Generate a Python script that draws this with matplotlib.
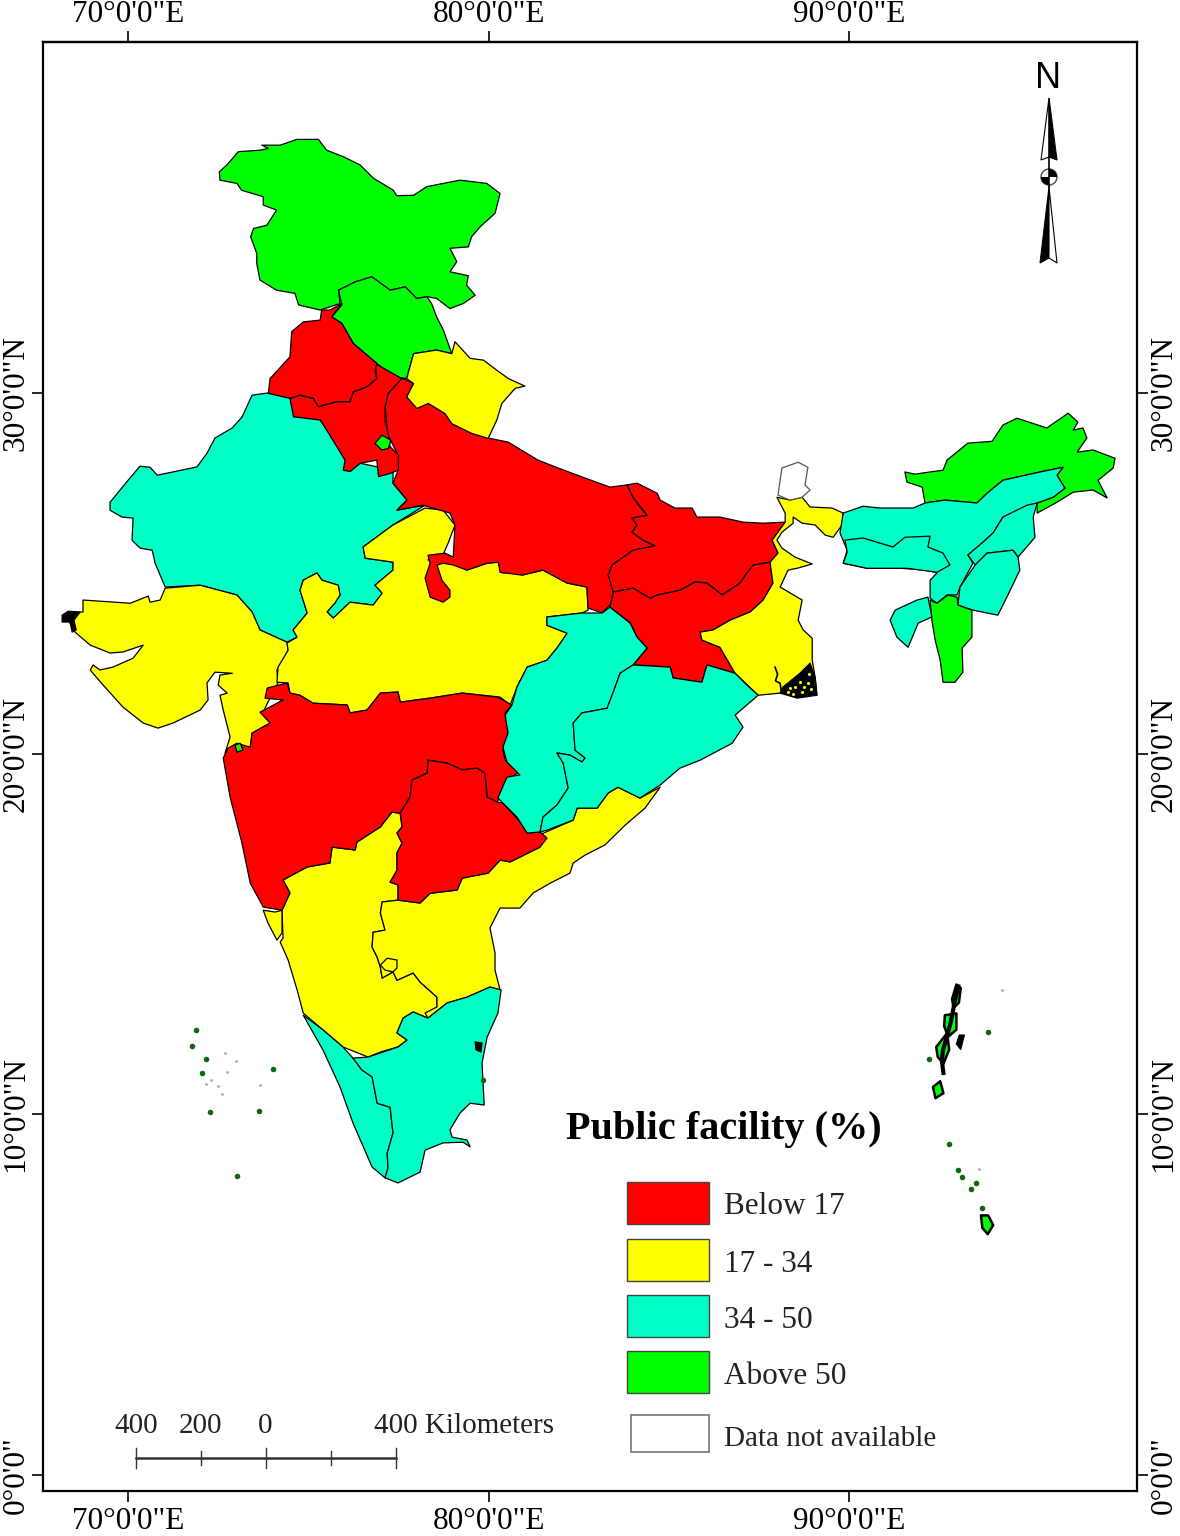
import matplotlib
matplotlib.use("Agg")
import matplotlib.pyplot as plt
from matplotlib.patches import Rectangle, Circle, Wedge
from matplotlib.transforms import Affine2D

plt.rcParams["font.family"] = ["Liberation Serif", "DejaVu Serif"]
plt.rcParams["ytick.alignment"] = "center"

RED = "#ff0000"
YELLOW = "#ffff00"
AQUA = "#00ffc5"
GREEN = "#00ff00"

LON_TICKS = [70, 80, 90]
LON_LABELS = ['70°0\'0"E', '80°0\'0"E', '90°0\'0"E']
LAT_TICKS = [0, 10, 20, 30]
LAT_LABELS = ['0°0\'0"', '10°0\'0"N', '20°0\'0"N', '30°0\'0"N']

LEGEND_LABELS = ["Below 17", "17 - 34", "34 - 50", "Above 50"]
LEGEND_COLORS = [RED, YELLOW, AQUA, GREEN]

# state outlines, (lon, lat)
JAMMU_KASHMIR = [(72.53,36.13),(72.74,36.32),(73.06,36.69),(73.66,36.73),(73.89,36.78),(73.71,36.87),(74.22,36.87),(74.68,37.03),(75.28,37.03),(75.51,36.73),(75.97,36.55),(76.44,36.32),(76.81,35.95),(77.36,35.62),(77.45,35.47),(77.92,35.48),(78.29,35.72),(79.21,35.90),(79.95,35.81),(80.32,35.53),(80.18,34.98),(79.77,34.61),(79.53,34.33),(79.44,34.05),(78.93,34.01),(79.12,33.64),(78.93,33.36),(79.44,33.25),(79.39,32.99),(79.63,32.71),(79.30,32.48),(78.93,32.34),(78.56,32.62),(78.29,32.67),(78.01,32.62),(77.69,32.94),(77.27,32.85),(76.76,33.22),(76.30,33.08),(75.84,32.85),(75.88,32.48),(75.33,32.30),(74.73,32.44),(74.63,32.76),(74.12,32.85),(73.66,33.13),(73.57,33.59),(73.57,33.87),(73.40,34.33),(73.48,34.56),(73.85,34.65),(74.12,35.07),(73.75,35.21),(73.75,35.44),(73.15,35.62),(73.02,35.81),(72.55,35.90)]
HIMACHAL = [(75.84,32.85),(76.30,33.08),(76.76,33.22),(77.27,32.85),(77.69,32.94),(78.01,32.62),(78.29,32.67),(78.42,32.48),(78.56,32.11),(78.75,31.74),(78.98,31.09),(78.56,31.19),(77.92,31.09),(77.73,30.40),(77.36,30.45),(76.90,30.82),(76.25,31.37),(75.93,31.93),(75.65,32.11),(75.93,32.44)]
PUNJAB = [(75.93,32.48),(75.65,32.11),(75.93,31.93),(76.25,31.37),(76.90,30.82),(76.85,30.63),(76.90,30.40),(76.62,30.17),(76.25,30.03),(76.16,29.76),(75.79,29.76),(75.28,29.62),(75.14,29.85),(74.77,29.94),(74.49,29.85),(73.89,29.99),(73.94,30.40),(74.49,31.00),(74.54,31.70),(74.86,31.97),(75.33,32.02),(75.37,32.30),(75.60,32.30)]
HARYANA = [(74.49,29.85),(74.77,29.94),(75.14,29.85),(75.28,29.62),(75.79,29.76),(76.16,29.76),(76.25,30.03),(76.62,30.17),(76.90,30.40),(76.85,30.82),(77.59,30.40),(77.22,29.99),(77.13,29.62),(77.13,29.25),(77.22,28.83),(77.27,28.51),(77.50,28.28),(77.50,27.86),(77.27,27.77),(76.95,27.68),(76.90,28.14),(76.44,28.05),(76.16,27.82),(75.97,27.86),(76.02,28.14),(75.51,28.97),(75.33,29.25),(74.59,29.34)]
DELHI = [(76.85,28.60),(77.04,28.83),(77.29,28.69),(77.22,28.46),(77.04,28.42)]
UTTARAKHAND = [(77.73,30.40),(77.92,31.09),(78.56,31.19),(78.98,31.09),(79.07,31.42),(79.49,30.96),(79.86,30.91),(80.23,30.63),(80.55,30.40),(81.01,30.19),(80.74,30.13),(80.37,29.71),(80.23,29.25),(79.99,28.74),(79.53,28.88),(78.98,29.15),(78.79,29.43),(78.33,29.71),(78.01,29.57),(77.73,29.89),(77.92,30.26)]
RAJASTHAN = [(73.88,30.00),(73.44,29.94),(73.16,29.33),(72.89,29.03),(72.41,28.75),(72.19,28.33),(71.91,27.95),(70.81,27.72),(70.61,27.94),(70.33,27.97),(70.00,27.58),(69.50,26.97),(69.50,26.75),(69.83,26.56),(70.14,26.53),(70.11,25.92),(70.33,25.70),(70.67,25.64),(70.75,25.28),(71.03,24.62),(72.00,24.67),(73.02,24.40),(73.44,23.92),(73.66,23.43),(74.41,23.09),(74.69,23.23),(74.58,23.43),(74.97,23.90),(74.77,24.53),(74.86,24.81),(75.24,25.01),(75.38,24.81),(75.83,24.67),(75.88,24.40),(75.74,24.18),(75.52,23.93),(75.69,23.76),(76.16,24.20),(76.80,24.12),(77.05,24.45),(76.85,24.67),(77.35,25.09),(77.35,25.31),(76.58,25.42),(76.52,25.73),(77.35,26.34),(78.24,26.89),(77.46,26.75),(77.74,27.03),(77.35,27.50),(77.35,27.86),(76.02,28.14),(75.47,29.11),(74.63,29.94)]
GUJARAT = [(68.75,24.26),(69.64,24.20),(70.06,24.17),(70.56,24.37),(70.61,24.20),(70.89,24.26),(71.03,24.59),(72.00,24.67),(73.02,24.40),(73.44,23.93),(73.66,23.43),(74.41,23.09),(74.44,22.87),(74.27,22.51),(74.13,22.32),(74.16,21.96),(73.88,21.43),(73.75,21.15),(73.94,20.85),(73.44,20.57),(73.39,20.18),(72.91,20.15),(72.69,20.02),(72.83,20.46),(72.64,21.21),(72.55,21.62),(72.75,21.68),(72.50,21.90),(72.55,22.18),(72.89,22.23),(72.41,22.26),(72.19,21.96),(72.22,21.49),(72.00,21.21),(71.25,20.85),(70.83,20.71),(70.42,20.85),(69.86,21.29),(69.31,21.90),(68.95,22.32),(69.03,22.46),(69.22,22.32),(69.58,22.40),(70.14,22.65),(70.42,23.01),(69.86,22.82),(69.50,22.79),(68.95,23.01),(68.53,23.37),(68.39,23.62),(68.47,23.90),(68.75,23.93)]
KUTCH_CREEK = [(68.17,23.84),(68.34,23.95),(68.67,23.93),(68.50,23.70),(68.56,23.43),(68.45,23.37),(68.39,23.65),(68.17,23.65)]
MADHYA_PRADESH = [(78.24,26.81),(78.74,26.75),(79.07,26.34),(78.88,25.84),(78.71,25.45),(78.38,25.45),(78.32,25.37),(78.74,25.37),(79.02,25.28),(79.40,25.09),(79.96,25.28),(80.27,25.31),(80.38,25.01),(80.82,25.03),(80.93,24.95),(81.51,25.09),(82.18,24.73),(82.73,24.62),(82.76,23.98),(82.59,23.90),(81.62,23.79),(81.62,23.56),(82.18,23.34),(81.90,22.93),(81.62,22.59),(81.07,22.40),(80.79,21.85),(80.60,21.35),(80.32,21.57),(79.27,21.68),(78.38,21.54),(77.55,21.43),(77.49,21.71),(77.00,21.68),(76.63,21.21),(76.16,21.13),(76.08,21.35),(75.13,21.40),(74.77,21.62),(74.49,21.68),(74.44,21.96),(74.13,21.98),(74.16,22.40),(74.44,22.87),(74.41,23.07),(74.69,23.23),(74.58,23.43),(74.97,23.90),(74.77,24.53),(74.86,24.81),(75.24,25.01),(75.38,24.81),(75.83,24.67),(75.88,24.40),(75.74,24.18),(75.52,23.93),(75.69,23.76),(76.16,24.20),(76.80,24.12),(77.05,24.45),(76.85,24.67),(77.35,25.09),(77.35,25.31),(76.58,25.42),(76.52,25.73),(77.35,26.34)]
UTTAR_PRADESH = [(77.60,30.41),(77.91,30.27),(77.74,29.88),(78.02,29.58),(78.32,29.72),(78.79,29.44),(78.99,29.16),(79.54,28.89),(79.99,28.75),(80.54,28.64),(81.37,28.14),(81.93,27.92),(82.68,27.64),(83.37,27.39),(83.84,27.45),(84.01,27.11),(84.20,26.84),(84.40,26.61),(83.98,26.53),(84.12,26.34),(83.98,26.14),(84.29,25.92),(84.62,25.76),(84.01,25.64),(83.43,25.23),(83.32,24.95),(83.51,24.53),(83.37,24.12),(83.15,23.90),(82.76,24.04),(82.73,24.62),(82.18,24.73),(81.51,25.09),(80.93,24.95),(80.32,25.03),(80.27,25.31),(79.96,25.28),(79.40,25.09),(79.02,25.23),(78.74,25.28),(78.57,25.23),(78.71,24.81),(78.93,24.53),(78.93,24.34),(78.74,24.20),(78.38,24.34),(78.24,24.87),(78.38,25.28),(78.32,25.50),(78.79,25.56),(79.02,25.45),(79.07,26.34),(78.93,26.67),(78.66,26.75),(78.18,26.89),(77.46,26.75),(77.74,27.03),(77.35,27.50),(77.49,27.86),(77.49,28.28),(77.21,28.83),(77.13,29.61),(77.21,30.00)]
BIHAR = [(83.84,27.45),(84.12,27.50),(84.68,27.22),(84.76,27.03),(85.17,26.81),(85.65,26.81),(85.78,26.56),(86.42,26.56),(87.06,26.42),(87.62,26.39),(88.23,26.42),(87.87,25.92),(88.03,25.56),(87.81,25.28),(87.53,25.28),(87.17,25.01),(86.98,24.73),(86.48,24.40),(86.06,24.73),(85.73,24.76),(85.31,24.53),(84.68,24.40),(84.48,24.31),(84.01,24.59),(83.46,24.48),(83.32,24.95),(83.43,25.23),(84.01,25.64),(84.62,25.76),(84.29,25.92),(83.98,26.14),(84.12,26.34),(83.98,26.53),(84.40,26.61),(84.01,27.11)]
JHARKHAND = [(83.46,24.48),(84.01,24.59),(84.48,24.31),(84.68,24.40),(85.31,24.53),(85.73,24.76),(86.06,24.73),(86.48,24.40),(86.98,24.73),(87.17,25.01),(87.34,25.23),(87.81,25.31),(87.89,24.73),(87.62,24.26),(87.26,23.93),(86.70,23.70),(86.23,23.43),(85.87,23.37),(85.92,23.15),(86.42,22.95),(86.84,22.23),(86.06,22.46),(85.92,21.98),(85.12,22.10),(85.04,22.40),(84.01,22.46),(84.40,22.93),(84.12,23.23),(83.93,23.62),(83.37,24.06)]
WEST_BENGAL = [(88.00,27.11),(88.36,27.03),(88.70,27.11),(88.92,26.84),(89.53,26.81),(89.84,26.67),(89.81,26.34),(89.56,26.00),(89.34,26.06),(89.06,26.34),(88.70,26.39),(88.45,26.56),(88.45,26.39),(88.14,26.14),(88.00,25.92),(88.14,25.70),(88.50,25.45),(88.98,25.26),(88.56,25.14),(88.31,25.09),(88.09,24.62),(88.70,24.26),(88.59,23.70),(88.73,23.43),(88.98,23.20),(88.98,22.59),(89.06,22.12),(89.11,21.62),(88.09,21.68),(87.48,21.62),(86.84,22.23),(86.42,22.95),(85.92,23.15),(85.87,23.37),(86.23,23.43),(86.70,23.70),(87.26,23.93),(87.62,24.26),(87.89,24.73),(87.81,25.31),(88.03,25.56),(87.87,25.92),(88.23,26.42),(88.23,26.67)]
SUNDARBANS = [(88.09,21.68),(88.17,21.85),(88.64,22.23),(88.92,22.51),(89.06,22.12),(89.11,21.62),(88.56,21.54)]
SUNDARBANS_SPECK_LON = [88.30,88.50,88.70,88.85,88.45,88.65,88.90,88.75,88.95,88.35]
SUNDARBANS_SPECK_LAT = [21.72,21.85,21.70,21.95,21.65,22.00,22.20,21.85,21.78,21.82]
HOOGHLY_INLET_LON = [87.95,88.02,87.96,88.09,88.12]
HOOGHLY_INLET_LAT = [22.40,22.20,22.02,21.95,21.72]
SIKKIM = [(88.03,27.17),(88.14,27.92),(88.59,28.08),(88.86,27.94),(88.78,27.45),(88.92,27.31),(88.70,27.11),(88.36,27.03)]
ARUNACHAL = [(91.55,27.81),(91.83,27.75),(92.25,27.81),(92.61,27.86),(92.72,28.14),(93.30,28.61),(93.97,28.66),(94.27,29.11),(94.66,29.30),(95.49,29.03),(96.08,29.44),(96.35,29.19),(96.22,28.97),(96.49,29.03),(96.60,28.75),(96.33,28.36),(96.77,28.42),(97.38,28.19),(97.33,27.92),(96.91,27.58),(97.16,27.09),(96.77,27.31),(96.22,27.25),(95.77,26.97),(95.22,26.67),(95.22,26.95),(95.66,27.11),(95.99,27.36),(95.77,27.72),(95.94,27.94),(95.30,27.81),(94.27,27.58),(93.83,27.22),(93.55,26.95),(92.66,27.03),(92.11,26.95),(92.03,27.39),(91.61,27.53)]
ASSAM = [(89.84,26.67),(90.39,26.86),(90.86,26.81),(91.78,26.81),(92.11,26.95),(92.66,27.03),(93.55,26.95),(93.83,27.22),(94.27,27.58),(95.30,27.81),(95.94,27.94),(95.77,27.72),(95.99,27.36),(95.66,27.11),(95.22,26.95),(94.27,26.56),(94.00,26.12),(93.69,25.84),(93.30,25.51),(93.44,25.28),(93.08,24.62),(93.00,24.40),(92.72,24.40),(92.44,24.17),(92.25,24.31),(92.25,24.81),(92.44,25.01),(92.16,25.09),(91.42,25.14),(90.50,25.14),(89.84,25.28),(89.95,25.64),(89.75,26.12)]
MEGHALAYA = [(89.89,25.92),(90.39,25.98),(91.22,25.73),(91.55,26.00),(92.25,26.03),(92.19,25.73),(92.61,25.56),(92.80,25.23),(92.44,25.03),(91.61,25.14),(90.50,25.14),(89.84,25.28),(89.95,25.59)]
NAGALAND = [(93.30,25.51),(93.69,25.84),(94.00,26.12),(94.27,26.56),(94.94,26.89),(95.22,26.95),(95.11,26.56),(95.16,26.00),(94.69,25.45),(94.55,25.64),(93.83,25.56),(93.50,25.23)]
MANIPUR = [(93.50,25.23),(93.83,25.56),(94.55,25.64),(94.69,25.45),(94.74,25.09),(94.38,24.34),(94.13,23.84),(93.44,23.98),(93.02,24.12),(93.08,24.62)]
MIZORAM = [(92.25,24.26),(92.44,24.17),(92.75,24.40),(93.00,24.34),(93.02,24.12),(93.41,23.98),(93.41,23.23),(93.14,22.93),(93.16,22.26),(92.94,21.98),(92.61,21.98),(92.53,22.59),(92.39,23.15),(92.30,23.70)]
TRIPURA = [(91.14,23.70),(91.28,23.98),(91.89,24.26),(92.19,24.34),(92.30,23.79),(91.92,23.62),(91.64,22.95),(91.33,23.23)]
MAHARASHTRA = [(73.86,21.82),(74.41,21.96),(74.49,21.68),(74.77,21.62),(75.13,21.40),(76.08,21.35),(76.16,21.13),(76.63,21.21),(77.00,21.68),(77.49,21.71),(77.55,21.43),(78.38,21.54),(79.27,21.68),(80.24,21.57),(80.65,21.35),(80.46,21.13),(80.60,20.65),(80.40,20.10),(80.46,19.82),(80.87,19.49),(80.54,19.32),(80.32,18.80),(80.24,18.66),(79.96,18.80),(79.90,19.46),(79.68,19.60),(79.27,19.55),(78.85,19.74),(78.32,19.82),(78.30,19.46),(77.88,19.27),(77.82,18.80),(77.55,18.35),(77.32,18.38),(77.00,17.97),(76.35,17.55),(76.30,17.33),(75.66,17.41),(75.60,16.97),(74.97,16.86),(74.30,16.50),(74.49,16.14),(74.27,15.66),(73.75,15.75),(73.39,16.41),(73.16,17.52),(72.83,18.80),(72.64,19.88),(72.77,20.15),(73.02,20.29),(73.39,20.18),(73.44,20.57),(73.94,20.85),(73.66,21.15),(74.30,21.49),(73.80,21.54)]
DADRA = [(72.97,20.24),(73.11,20.29),(73.19,20.10),(73.02,20.04)]
TELANGANA = [(78.32,19.82),(78.85,19.74),(79.27,19.55),(79.68,19.60),(79.90,19.46),(79.96,18.80),(80.24,18.66),(80.40,18.63),(81.01,17.97),(81.07,17.80),(81.43,17.83),(81.62,17.66),(81.43,17.41),(80.60,17.00),(80.32,17.05),(79.99,16.69),(79.27,16.55),(79.13,16.22),(78.38,16.13),(78.10,15.86),(77.49,15.94),(77.49,16.36),(77.27,16.44),(77.46,16.77),(77.46,17.25),(77.60,17.52),(77.46,17.80),(77.60,17.97),(77.55,18.35),(77.82,18.80),(77.88,19.27),(78.30,19.46)]
CHHATTISGARH = [(81.62,23.79),(82.59,23.90),(83.15,23.90),(83.37,24.06),(83.93,23.62),(84.12,23.23),(84.40,22.93),(84.01,22.46),(83.65,22.23),(83.45,21.68),(83.29,21.26),(82.59,21.13),(82.35,20.85),(82.40,20.10),(82.68,19.88),(82.59,19.77),(82.26,19.96),(81.90,20.02),(82.07,19.74),(82.21,19.05),(81.90,18.58),(81.51,18.24),(81.43,17.83),(81.07,17.80),(80.79,18.24),(80.26,18.77),(80.51,19.35),(80.87,19.41),(80.51,19.77),(80.40,20.18),(80.54,20.57),(80.46,21.07),(80.65,21.35),(80.79,21.85),(81.07,22.40),(81.62,22.59),(81.90,22.93),(82.18,23.34),(81.62,23.56)]
ODISHA = [(84.01,22.46),(85.04,22.40),(85.12,22.10),(85.92,21.98),(86.06,22.46),(86.84,22.23),(87.17,21.90),(87.48,21.62),(86.84,21.07),(87.06,20.74),(86.76,20.29),(85.87,19.82),(85.31,19.60),(84.76,19.13),(84.20,18.77),(83.59,19.07),(83.32,18.91),(83.01,18.49),(82.46,18.49),(82.35,18.16),(81.62,17.88),(81.43,17.83),(81.51,18.24),(81.90,18.58),(82.21,19.05),(82.07,19.74),(81.90,20.02),(82.26,19.96),(82.59,19.77),(82.68,19.88),(82.40,20.10),(82.35,20.85),(82.59,21.13),(83.29,21.26),(83.45,21.68),(83.65,22.23)]
ANDHRA = [(81.46,17.77),(82.35,18.16),(82.46,18.49),(83.01,18.49),(83.32,18.91),(83.59,19.07),(84.20,18.77),(84.76,19.07),(84.34,18.49),(83.79,18.02),(83.23,17.47),(82.68,17.19),(82.35,16.97),(82.26,16.69),(81.71,16.41),(81.24,16.14),(80.87,15.72),(80.32,15.72),(80.04,15.17),(80.18,14.47),(80.18,14.00),(80.32,13.45),(80.04,13.53),(79.40,13.25),(78.85,13.09),(78.32,12.67),(78.24,12.81),(78.57,12.98),(78.57,13.25),(78.10,13.67),(77.91,13.92),(77.46,13.72),(77.35,13.95),(77.05,13.78),(77.00,14.08),(76.91,14.36),(76.77,14.64),(76.80,15.05),(77.13,15.11),(77.00,15.58),(77.05,15.89),(77.49,15.94),(78.10,15.86),(78.38,16.13),(79.13,16.22),(79.27,16.55),(79.99,16.69),(80.32,17.05),(80.60,17.00),(81.43,17.41)]
HINDUPUR_LOOP = [(77.00,14.14),(77.19,14.33),(77.46,14.28),(77.46,14.06),(77.35,13.95),(77.13,14.00)]
KARNATAKA = [(74.27,15.66),(74.30,14.89),(74.22,14.78),(74.44,14.28),(74.69,13.45),(74.86,12.81),(75.41,12.34),(75.96,11.87),(76.66,11.59),(77.00,11.73),(77.49,11.87),(77.74,12.06),(77.46,12.26),(77.63,12.67),(77.91,12.84),(78.30,12.67),(78.57,12.98),(78.57,13.25),(78.10,13.67),(77.91,13.92),(77.46,13.72),(77.35,13.95),(77.05,13.78),(77.00,14.08),(76.91,14.36),(76.77,14.64),(76.80,15.05),(77.13,15.11),(77.00,15.58),(77.05,15.89),(77.49,15.94),(77.49,16.36),(77.27,16.44),(77.46,16.77),(77.46,17.25),(77.60,17.52),(77.46,17.80),(77.60,17.97),(77.55,18.35),(77.32,18.38),(77.00,17.97),(76.35,17.55),(76.30,17.33),(75.66,17.41),(75.60,16.97),(74.97,16.86),(74.30,16.50),(74.49,16.14)]
GOA = [(73.75,15.66),(74.08,15.61),(74.27,15.66),(74.27,15.03),(74.13,14.83),(73.88,15.31)]
KERALA = [(74.86,12.75),(75.41,12.34),(75.96,11.87),(76.24,11.56),(76.49,11.23),(76.77,11.04),(76.91,10.31),(77.27,10.20),(77.35,9.48),(77.19,8.93),(77.21,8.51),(77.13,8.24),(76.77,8.54),(76.24,9.76),(75.88,10.76),(75.41,11.78)]
TAMIL_NADU = [(76.24,11.56),(76.66,11.59),(77.49,11.87),(77.74,12.06),(77.46,12.26),(77.63,12.67),(77.91,12.84),(78.32,12.67),(78.85,13.09),(79.40,13.25),(80.04,13.53),(80.35,13.45),(80.26,12.81),(79.96,12.14),(79.82,11.42),(79.88,10.26),(79.49,10.31),(79.21,10.04),(78.93,9.57),(78.99,9.37),(79.40,9.29),(79.49,9.10),(79.29,9.23),(78.74,9.21),(78.24,9.01),(78.10,8.40),(77.49,8.10),(77.13,8.24),(77.21,8.51),(77.19,8.93),(77.35,9.48),(77.27,10.20),(76.91,10.31),(76.77,11.04),(76.49,11.23)]
PUDUCHERRY = [(79.63,12.01),(79.82,11.98),(79.79,11.73),(79.65,11.79)]

# Andaman and Nicobar
ANDAMAN_CHAIN_LON = [93.03,92.95,92.82,92.70,92.60,92.58,92.62]
ANDAMAN_CHAIN_LAT = [13.55,13.20,12.55,12.10,11.75,11.45,11.15]
NORTH_ANDAMAN = [(92.86,13.20),(92.98,13.60),(93.10,13.50),(93.05,13.10),(92.90,12.95)]
MIDDLE_ANDAMAN = [(92.66,12.75),(92.98,12.80),(92.98,12.35),(92.75,12.15),(92.64,12.45)]
SOUTH_ANDAMAN = [(92.42,11.87),(92.72,12.25),(92.78,11.80),(92.62,11.40),(92.46,11.60)]
LITTLE_ANDAMAN = [(92.33,10.76),(92.53,10.92),(92.62,10.59),(92.40,10.45)]
RITCHIE = [(93.06,12.20),(93.20,12.20),(93.10,11.80),(92.98,11.95)]
GREAT_NICOBAR = [(93.66,7.20),(93.86,7.20),(94.00,6.93),(93.85,6.68),(93.70,6.85)]

ISLAND_DOT_LON = [71.89,71.78,72.16,72.05,74.02,72.28,73.63,73.02,92.77,93.13,93.39,93.53,93.69,93.03,92.22,93.86,79.85]
ISLAND_DOT_LAT = [12.34,11.89,11.53,11.15,11.26,10.06,10.09,8.29,9.18,8.26,7.93,8.10,7.40,8.46,11.53,12.28,10.95]
ISLET_LON = [72.69,73.00,72.75,72.30,72.16,72.50,72.61,73.66,93.61,94.25]
ISLET_LAT = [11.70,11.48,11.17,10.95,10.84,10.79,10.56,10.81,8.48,13.45]

STATES = [
    (RAJASTHAN, AQUA), (GUJARAT, YELLOW), (MADHYA_PRADESH, YELLOW), (UTTAR_PRADESH, RED),
    (JAMMU_KASHMIR, GREEN), (HIMACHAL, GREEN), (HARYANA, RED), (PUNJAB, RED), (DELHI, GREEN),
    (UTTARAKHAND, YELLOW), (BIHAR, RED), (JHARKHAND, RED), (WEST_BENGAL, YELLOW), (SIKKIM, "white"),
    (ARUNACHAL, GREEN), (ASSAM, AQUA), (MEGHALAYA, AQUA), (NAGALAND, AQUA), (MANIPUR, AQUA),
    (MIZORAM, GREEN), (TRIPURA, AQUA), (KARNATAKA, YELLOW), (ANDHRA, YELLOW), (HINDUPUR_LOOP, YELLOW),
    (GOA, YELLOW), (MAHARASHTRA, RED), (DADRA, GREEN), (TELANGANA, RED), (CHHATTISGARH, AQUA),
    (ODISHA, AQUA), (KERALA, AQUA), (TAMIL_NADU, AQUA),
]
ISLANDS = [NORTH_ANDAMAN, MIDDLE_ANDAMAN, SOUTH_ANDAMAN, LITTLE_ANDAMAN, GREAT_NICOBAR]
BLACK_PATCHES = [KUTCH_CREEK, SUNDARBANS, PUDUCHERRY, RITCHIE]


def draw_poly(ax, pts, color, edge="black", lw=0.9):
    lons, lats = zip(*pts)
    ax.fill(lons, lats, facecolor=color, edgecolor=edge, linewidth=lw, joinstyle="round")


fig = plt.figure(figsize=(11.8, 15.36), dpi=100)
ax = fig.add_axes([43 / 1180, 1 - 1491 / 1536, 1094 / 1180, 1449 / 1536])

for pts, color in STATES:
    draw_poly(ax, pts, color, edge="#555555" if color == "white" else "black")
for pts in BLACK_PATCHES:
    draw_poly(ax, pts, "black")
ax.plot(HOOGHLY_INLET_LON, HOOGHLY_INLET_LAT, color="black", linewidth=1.2)
ax.scatter(SUNDARBANS_SPECK_LON, SUNDARBANS_SPECK_LAT, s=5, color=YELLOW, linewidths=0, zorder=3)
ax.plot(ANDAMAN_CHAIN_LON, ANDAMAN_CHAIN_LAT, color="black", linewidth=3.0, zorder=2)
for pts in ISLANDS:
    draw_poly(ax, pts, GREEN, lw=1.8)
ax.scatter(ISLAND_DOT_LON, ISLAND_DOT_LAT, s=16, color="#0a6a0a", linewidths=0, zorder=3)
ax.scatter(ISLET_LON, ISLET_LAT, s=4, color="#aaaaaa", linewidths=0, zorder=3)

ax.set_xlim(67.64, 97.99)
ax.set_ylim(-0.44, 39.73)
ax.set_xticks(LON_TICKS, LON_LABELS)
ax.set_yticks(LAT_TICKS, LAT_LABELS)
ax.tick_params(axis="both", top=False, right=True, labelright=True,
               length=8, width=1.2, labelsize=22.5)
ax.tick_params(axis="x", pad=3.5)
ax.tick_params(axis="y", labelrotation=90, pad=1)
for side in ax.spines.values():
    side.set_linewidth(1.6)

# top labels sit closer to the frame than the bottom ones
top_axis = ax.secondary_xaxis("top")
top_axis.set_xticks(LON_TICKS, LON_LABELS)
top_axis.tick_params(length=8, width=1.2, labelsize=22.5, pad=1)
top_axis.spines["top"].set_linewidth(1.6)

# layout items are placed in picture pixels
pix = Affine2D().scale(1 / 1180, -1 / 1536).translate(0, 1) + fig.transFigure

fig.text(724, 1130, "Public facility (%)", transform=pix, fontsize=29, fontweight="bold",
         ha="center", va="center")
for y, label, color in zip([1182, 1239, 1295, 1351], LEGEND_LABELS, LEGEND_COLORS):
    fig.add_artist(Rectangle((627, y), 82, 42, transform=pix, facecolor=color,
                             edgecolor="#444444", linewidth=1.0))
    fig.text(724, y + 25, label, transform=pix, fontsize=22.5, va="center", color="#222222")
fig.add_artist(Rectangle((631, 1415), 78, 37, transform=pix, facecolor="white",
                         edgecolor="#888888", linewidth=1.4))
fig.text(724, 1439, "Data not available", transform=pix, fontsize=21, va="center", color="#222222")

# scale bar
fig.add_artist(plt.Line2D([136, 396], [1458, 1458], transform=pix, color="#333333", linewidth=1.8))
for x, half in zip([136, 201, 266, 331, 396], [10, 7, 10, 7, 10]):
    fig.add_artist(plt.Line2D([x, x], [1458 - half, 1458 + half], transform=pix, color="#333333", linewidth=1.0))
for x, label in zip([136, 201, 265], ["400", "200", "0"]):
    fig.text(x, 1426, label, transform=pix, fontsize=21, ha="center", va="center", color="#222222")
fig.text(374, 1426, "400 Kilometers", transform=pix, fontsize=21, va="center", color="#222222")

# north arrow
fig.text(1048, 78, "N", transform=pix, fontsize=26, ha="center", va="center", family="Liberation Sans")
for xs, ys, color in [
    ([1049, 1041, 1049], [98, 160, 157], "white"),
    ([1049, 1057, 1049], [98, 160, 157], "black"),
    ([1049, 1040, 1049], [187, 263, 258], "black"),
    ([1049, 1057, 1049], [187, 263, 258], "white"),
]:
    fig.add_artist(plt.Polygon(list(zip(xs, ys)), transform=pix, facecolor=color,
                               edgecolor="black", linewidth=0.8))
fig.add_artist(plt.Line2D([1049, 1049], [157, 187], transform=pix, color="black", linewidth=1.2))
fig.add_artist(Circle((1049, 177), 8, transform=pix, facecolor="white", edgecolor="#444444", linewidth=1.0))
fig.add_artist(Wedge((1049, 177), 8, 90, 180, transform=pix, facecolor="black", edgecolor="none"))
fig.add_artist(Wedge((1049, 177), 8, 270, 360, transform=pix, facecolor="black", edgecolor="none"))

fig.savefig("out.png", dpi=100)
